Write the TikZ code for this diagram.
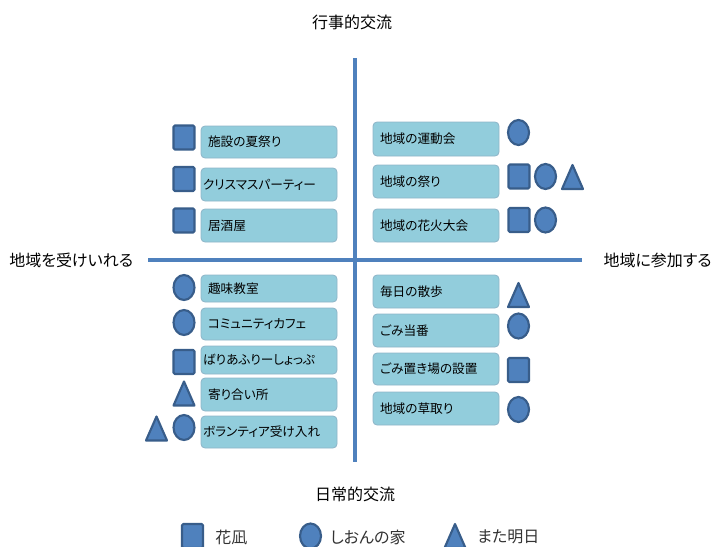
\documentclass[tikz,border=0pt]{standalone}
\usepackage{fontspec}
\setmainfont{Noto Sans CJK JP}[RawFeature=+palt]
\definecolor{axisblue}{HTML}{4F81BD}
\definecolor{shpfill}{HTML}{4F81BD}
\definecolor{shpline}{HTML}{385D8A}
\definecolor{boxfill}{HTML}{92CDDC}
\definecolor{boxline}{HTML}{8EB4C8}
\newcommand\mksq[2]{\draw[shp,rounded corners=1pt] (#1,#2) ++(-10.5,-12) rectangle ++(21,24);}
\newcommand\mkci[2]{\draw[shp] (#1,#2) ellipse [x radius=10.5,y radius=12.5];}
\newcommand\mktr[2]{\draw[shp] (#1,#2) ++(-10.5,12) -- ++(21,0) -- ++(-10.5,-24) -- cycle;}
\tikzset{
  shp/.style={fill=shpfill, draw=shpline, line width=1.6pt, line join=round},
  axisline/.style={draw=axisblue, line width=3pt},
  bx/.style={draw=boxline, fill=boxfill, rounded corners=3pt, line width=0.6pt,
    inner ysep=0pt, inner xsep=5.25pt, align=left, font={\fontsize{9.5pt}{11pt}\selectfont}},
  lbx/.style={bx, text width=91.5pt, minimum width=102pt},
  rbx/.style={bx, text width=84pt, minimum width=94.5pt},
  longtxt/.style={inner xsep=1.5pt, text width=99pt},
  axlabel/.style={font={\fontsize{12pt}{14pt}\selectfont}, inner sep=0pt},
  leglabel/.style={font={\fontsize{12pt}{14pt}\selectfont}, text=black!80, inner sep=0pt, anchor=west}
}
\begin{document}
\begin{tikzpicture}[x=0.75pt,y=-0.75pt]
\useasboundingbox (0,0) rectangle (713,546);
% axes
\coordinate (vtop) at (355,58);
\coordinate (vbot) at (355,462);
\coordinate (hleft) at (148,260);
\coordinate (hright) at (582,260);
\draw[axisline] (vtop) -- (vbot);
\draw[axisline] (hleft) -- (hright);
% axis labels
\node[axlabel] (ltop) at (352,22) {行事的交流};
\node[axlabel] (lbot) at (355,494) {日常的交流};
\node[axlabel, anchor=west] (lleft) at (9,260) {地域を受けいれる};
\node[axlabel, anchor=east] (lright) at (712,260) {地域に参加する};
% top-left
\node[lbx, minimum height=24pt] (a1) at (269,142) {施設の夏祭り};
\node[lbx, longtxt, minimum height=24.75pt] (a2) at (269,184.5) {クリスマスパーティー};
\node[lbx, minimum height=24.75pt] (a3) at (269,225.5) {居酒屋};
\mksq{184}{137.5}
\mksq{184}{179}
\mksq{184}{220.5}
% top-right
\node[rbx, minimum height=25.5pt] (b1) at (436,139) {地域の運動会};
\node[rbx, minimum height=24.75pt] (b2) at (436,181.5) {地域の祭り};
\node[rbx, minimum height=24.75pt] (b3) at (436,225.5) {地域の花火大会};
\mkci{518.5}{132.5}
\mksq{519}{176.5}
\mkci{545.5}{176.5}
\mktr{572.5}{177}
\mksq{519}{220}
\mkci{545.5}{220}
% bottom-left
\node[lbx, minimum height=20.25pt] (c1) at (269,288.5) {趣味教室};
\node[lbx, minimum height=24pt] (c2) at (269,324) {コミュニティカフェ};
\node[lbx, longtxt, minimum height=21pt] (c3) at (269,360) {ばりあふりーしょっぷ};
\node[lbx, minimum height=24.75pt] (c4) at (269,394.5) {寄り合い所};
\node[lbx, longtxt, minimum height=24pt] (c5) at (269,432) {ボランティア受け入れ};
\mkci{184}{287.5}
\mkci{184}{322.5}
\mksq{184}{362}
\mktr{184}{393.5}
\mktr{156.5}{428.5}
\mkci{184}{427.5}
% bottom-right
\node[rbx, minimum height=24.75pt] (d1) at (436,291.5) {毎日の散歩};
\node[rbx, minimum height=24.75pt] (d2) at (436,330.5) {ごみ当番};
\node[rbx, minimum height=24pt] (d3) at (436,369) {ごみ置き場の設置};
\node[rbx, minimum height=24.75pt] (d4) at (436,408.5) {地域の草取り};
\mktr{518.5}{295}
\mkci{518.5}{326}
\mksq{518.5}{370}
\mkci{518.5}{409.5}
% legend
\mksq{192.5}{536}
\node[leglabel] (g1) at (215,537) {花凪};
\mkci{310.5}{536}
\node[leglabel] (g2) at (330,537) {しおんの家};
\mktr{455}{536}
\node[leglabel] (g3) at (477,537) {また明日};
\end{tikzpicture}
\end{document}
